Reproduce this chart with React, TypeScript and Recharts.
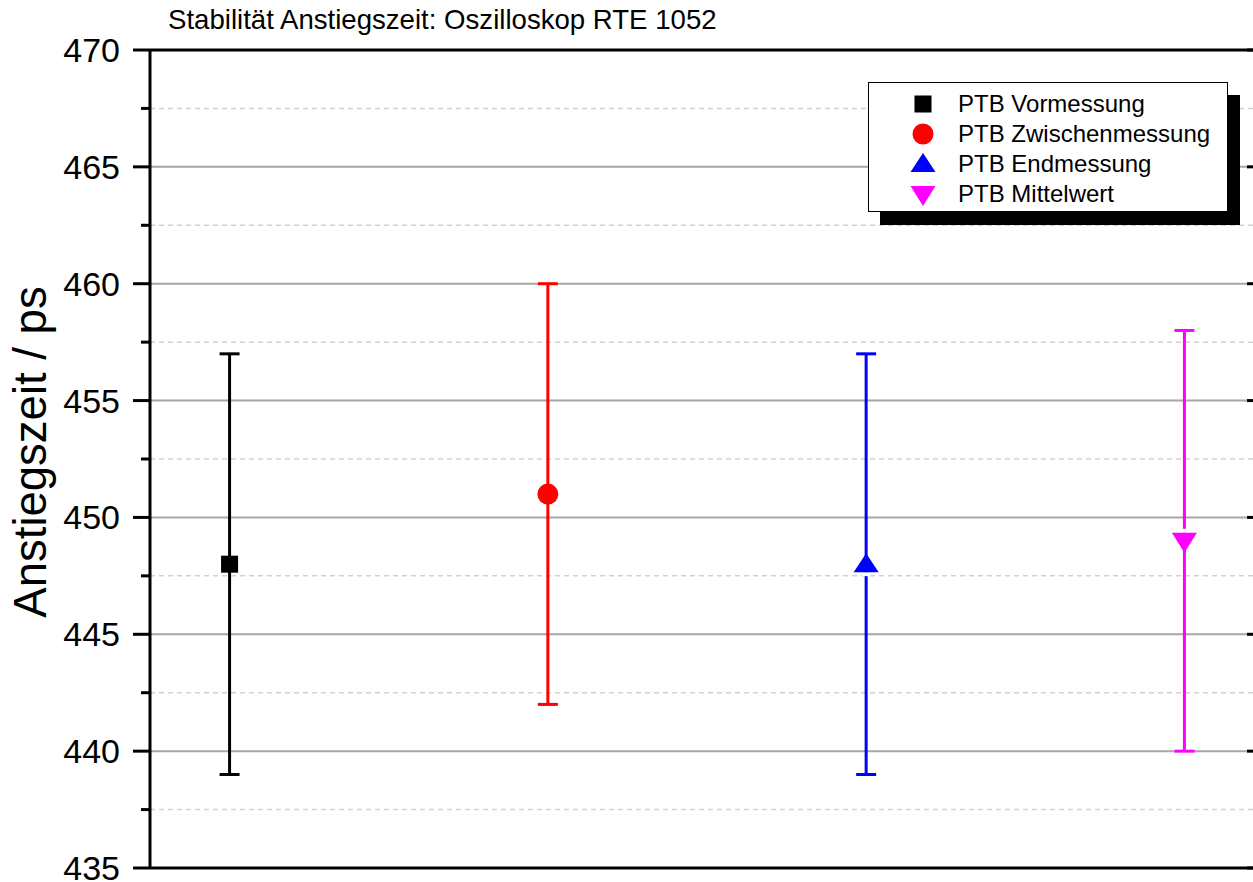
import React from 'react';
import {
  ComposedChart,
  Scatter,
  ErrorBar,
  XAxis,
  YAxis,
  ReferenceLine,
  Legend,
} from 'recharts';

const FONT = '"Liberation Sans", Arial, sans-serif';

// Messreihen
const seriesNames = [
  'PTB Vormessung',
  'PTB Zwischenmessung',
  'PTB Endmessung',
  'PTB Mittelwert',
];
const seriesColors = ['#000000', '#ff0000', '#0000ff', '#ff00ff'];
const seriesSymbols = ['square', 'circle', 'up', 'down'];
const xPositions = [1, 3, 5, 7];
const riseTimes = [448, 451, 448, 449];
const uncertainties = [9, 9, 9, 9];

// Achsen
const yMajorTicks = [435, 440, 445, 450, 455, 460, 465, 470];
const yMinorTicks = [437.5, 442.5, 447.5, 452.5, 457.5, 462.5, 467.5];
const xMajorTicks = [1, 2, 3, 4, 5, 6, 7];
const xMinorTicks = [1.5, 2.5, 3.5, 4.5, 5.5, 6.5];
const gridMajor = [440, 445, 450, 455, 460, 465];
const gridMinor = [437.5, 442.5, 447.5, 452.5, 457.5, 462.5, 467.5];

const yAllTicks = [...yMajorTicks, ...yMinorTicks].sort((a, b) => a - b);
const xAllTicks = [...xMajorTicks, ...xMinorTicks].sort((a, b) => a - b);

const seriesData = seriesNames.map((name, i) => [
  { x: xPositions[i], y: riseTimes[i], err: uncertainties[i] },
]);

function Marker({ kind, cx, cy, color, gap }: any) {
  switch (kind) {
    case 'square':
      return <rect x={cx - 8.5} y={cy - 8.5} width={17} height={17} fill={color} />;
    case 'circle':
      return <circle cx={cx} cy={cy} r={10.5} fill={color} />;
    case 'up':
      return (
        <g>
          {gap && <rect x={cx - 4} y={cy + 8} width={8} height={4} fill="#fff" />}
          <polygon
            points={`${cx},${cy - 11} ${cx - 12.5},${cy + 8} ${cx + 12.5},${cy + 8}`}
            fill={color}
          />
        </g>
      );
    default:
      return (
        <g>
          {gap && <rect x={cx - 4} y={cy - 12} width={8} height={4} fill="#fff" />}
          <polygon
            points={`${cx - 12.5},${cy - 8} ${cx + 12.5},${cy - 8} ${cx},${cy + 12}`}
            fill={color}
          />
        </g>
      );
  }
}

const LeftTick = ({ x, y, payload }: any) => {
  const major = payload.value % 5 === 0;
  return (
    <g>
      <line x1={x - (major ? 17 : 9)} y1={y} x2={x} y2={y} stroke="#000" strokeWidth={3} />
      {major && (
        <text
          x={x - 30}
          y={y + 12}
          textAnchor="end"
          fontSize={34}
          fontFamily={FONT}
          fill="#000"
        >
          {payload.value}
        </text>
      )}
    </g>
  );
};

const RightTick = ({ x, y, payload }: any) => {
  const major = payload.value % 5 === 0;
  return <line x1={x - (major ? 17 : 9)} y1={y} x2={x} y2={y} stroke="#000" strokeWidth={3} />;
};

const TopTick = ({ x, y, payload }: any) => {
  const major = Number.isInteger(payload.value);
  return <line x1={x} y1={y} x2={x} y2={y + (major ? 17 : 10)} stroke="#000" strokeWidth={3} />;
};

const LegendBox = () => (
  <div
    style={{
      width: 360,
      height: 130,
      boxSizing: 'border-box',
      border: '1px solid #000',
      background: '#fff',
      boxShadow: '12px 13px 0 #000',
      paddingTop: 6,
      fontFamily: FONT,
      fontSize: 24,
      color: '#000',
    }}
  >
    {seriesNames.map((name, i) => (
      <div key={name} style={{ display: 'flex', alignItems: 'center', height: 30 }}>
        <svg width={89} height={30} style={{ flex: 'none' }}>
          <Marker kind={seriesSymbols[i]} cx={54} cy={15} color={seriesColors[i]} />
        </svg>
        <span style={{ lineHeight: '30px' }}>{name}</span>
      </div>
    ))}
  </div>
);

const axisLine = { stroke: '#000', strokeWidth: 3 };

export default function App() {
  return (
    <div
      style={{
        position: 'absolute',
        left: 0,
        top: 0,
        width: 1253,
        height: 882,
        overflow: 'hidden',
        background: '#fff',
      }}
    >
      <div
        style={{
          position: 'absolute',
          left: 168,
          top: 4,
          fontFamily: FONT,
          fontSize: 27.6,
          color: '#000',
          whiteSpace: 'nowrap',
          zIndex: 2,
        }}
      >
        Stabilität Anstiegszeit: Oszilloskop RTE 1052
      </div>
      <ComposedChart
        width={1290}
        height={882}
        margin={{ top: 49, right: 25, bottom: 13, left: 0 }}
      >
        <XAxis
          xAxisId="bottom"
          dataKey="x"
          type="number"
          domain={[0.5, 7.5]}
          allowDataOverflow
          ticks={xMajorTicks}
          tick={false}
          tickLine={false}
          height={1}
          axisLine={axisLine}
        />
        <XAxis
          xAxisId="top"
          orientation="top"
          type="number"
          domain={[0.5, 7.5]}
          allowDataOverflow
          ticks={xAllTicks}
          interval={0}
          tickSize={0}
          tickMargin={0}
          tickLine={false}
          tick={<TopTick />}
          height={1}
          axisLine={axisLine}
        />
        <YAxis
          yAxisId="left"
          dataKey="y"
          type="number"
          domain={[435, 470]}
          allowDataOverflow
          ticks={yAllTicks}
          interval={0}
          tickSize={0}
          tickMargin={0}
          tickLine={false}
          tick={<LeftTick />}
          width={150}
          axisLine={axisLine}
          label={{
            content: () => (
              <text
                transform="translate(46,452) rotate(-90)"
                textAnchor="middle"
                fontSize={45.5}
                fontFamily={FONT}
                fill="#000"
              >
                Anstiegszeit / ps
              </text>
            ),
          }}
        />
        <YAxis
          yAxisId="right"
          orientation="right"
          type="number"
          domain={[435, 470]}
          allowDataOverflow
          ticks={yAllTicks}
          interval={0}
          tickSize={0}
          tickMargin={0}
          tickLine={false}
          tick={<RightTick />}
          width={1}
          axisLine={axisLine}
        />
        {gridMinor.map((v) => (
          <ReferenceLine
            key={`m${v}`}
            xAxisId="bottom"
            yAxisId="left"
            y={v}
            stroke="#d2d2d2"
            strokeWidth={1.5}
            strokeDasharray="5 4"
          />
        ))}
        {gridMajor.map((v) => (
          <ReferenceLine
            key={`g${v}`}
            xAxisId="bottom"
            yAxisId="left"
            y={v}
            stroke="#a6a6a6"
            strokeWidth={2}
          />
        ))}
        {seriesNames.map((name, i) => (
          <Scatter
            key={name}
            name={name}
            data={seriesData[i]}
            xAxisId="bottom"
            yAxisId="left"
            dataKey="y"
            fill={seriesColors[i]}
            isAnimationActive={false}
            shape={(p: any) => (
              <Marker kind={seriesSymbols[i]} cx={p.cx} cy={p.cy} color={seriesColors[i]} gap />
            )}
          >
            <ErrorBar
              dataKey="err"
              direction="y"
              width={10}
              stroke={seriesColors[i]}
              strokeWidth={3}
              isAnimationActive={false}
            />
          </Scatter>
        ))}
        <Legend
          layout="vertical"
          align="center"
          verticalAlign="middle"
          content={() => <LegendBox />}
          wrapperStyle={{ left: 868, top: 82, width: 360, height: 130 }}
        />
      </ComposedChart>
    </div>
  );
}
